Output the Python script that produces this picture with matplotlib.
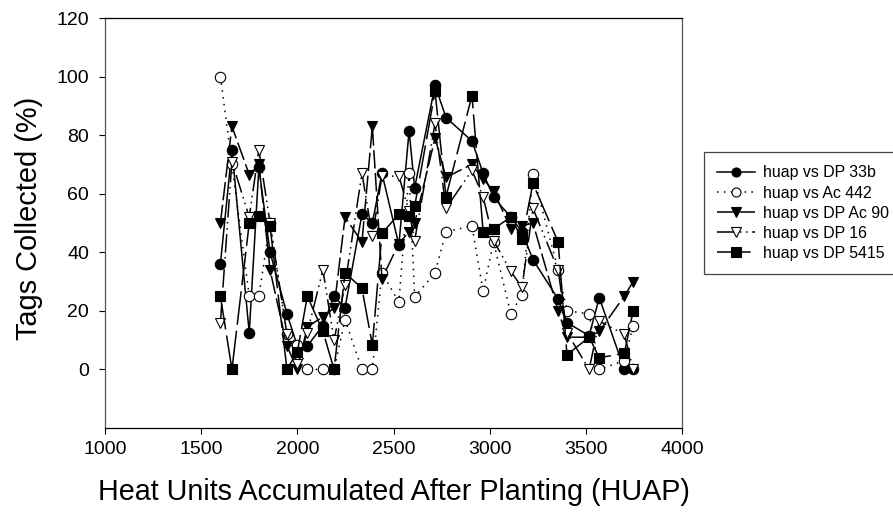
import numpy as np
import matplotlib
matplotlib.use("Agg")
import matplotlib.pyplot as plt

plt.rcParams['font.family'] = ['Liberation Sans', 'DejaVu Sans']

huap = [1600, 1660, 1750, 1800, 1858, 1946, 2000, 2052, 2133, 2191, 2248, 2336, 2390, 2440, 2528, 2581,
        2610, 2716, 2773, 2908, 2966, 3020, 3110, 3168, 3225, 3356, 3402, 3517, 3570, 3700, 3746]

dp_33b = [36, 75, 12.5, 69, 40, 19, 8, 8, 15, 25, 21, 53, 50, 67, 42.5, 81.5,
          62, 97, 86, 78, 67, 58.8, 52, 47, 37.5, 24, 16, 11.5, 24.5, 0, 0]
ac_442 = [100, 70, 25, 25, 50, 12, 8.5, 0, 0, 0, 17, 0, 0, 33, 23, 67,
          24.7, 33, 47, 49, 26.7, 43.5, 19, 25.5, 66.7, 34, 20, 19, 0, 3, 15]
dp_ac90 = [50, 83, 66.5, 70, 34, 8, 0, 14.5, 18, 21, 52, 43.5, 83, 31, 43, 47,
           50, 79, 65.6, 70, 65, 61, 48, 49, 50, 20, 11, 11, 13, 25, 30]
dp_16 = [16, 71, 52, 75, 50, 12, 2, 12.6, 34, 10, 29, 67, 45.5, 66, 66, 54,
         44, 84, 55, 68, 59, 44, 33.5, 28, 55, 34, 12.6, 0, 16.5, 12, 0]
dp_5415 = [25, 0, 50, 52.5, 49, 0, 6, 25, 13, 0, 33, 27.7, 8.3, 46.5, 53, 52.5,
           55.7, 95, 59, 93.5, 47, 48, 52, 44.5, 63.5, 43.5, 5, 11, 4, 5.5, 20]

series_labels = ['huap vs DP 33b', 'huap vs Ac 442', 'huap vs DP Ac 90', 'huap vs DP 16', 'huap vs DP 5415']

x_ticks = [1000, 1500, 2000, 2500, 3000, 3500, 4000]
y_ticks = [0, 20, 40, 60, 80, 100, 120]

W, H = 893, 512
fig = plt.figure(figsize=(W / 100, H / 100), dpi=100)
ax = fig.add_axes([105 / W, 1 - 428 / H, (682 - 105) / W, (428 - 18) / H])

styles = [
    dict(marker='o', mfc='black', ls='-'),
    dict(marker='o', mfc='white', ls=(0, (1, 3.5))),
    dict(marker='v', mfc='black', ls=(0, (12, 3))),
    dict(marker='v', mfc='white', ls=(0, (12, 3, 1, 3, 1, 3))),
    dict(marker='s', mfc='black', ls=(0, (22, 4))),
]

for vals, label, st in zip([dp_33b, ac_442, dp_ac90, dp_16, dp_5415], series_labels, styles):
    ax.plot(huap, vals, color='black', lw=1.1, marker=st['marker'], ms=7.5 if st['marker'] != 's' else 7,
            mfc=st['mfc'], mec='black', mew=0.8, ls=st['ls'], label=label, clip_on=False)

ax.set_xlim(1000, 4000)
ax.set_ylim(-20, 120)
ax.set_xticks(x_ticks)
ax.set_yticks(y_ticks)
ax.tick_params(labelsize=14, length=4.5, width=0.8, direction='out')
ax.tick_params(axis='x', pad=4.5)
ax.tick_params(axis='y', pad=7)
for s in ax.spines.values():
    s.set_linewidth(0.9)
ax.spines['left'].set_color('#555555')
ax.spines['right'].set_color('#555555')
ax.set_xlabel('Heat Units Accumulated After Planting (HUAP)', fontsize=20.7, labelpad=15)
ax.set_ylabel('Tags Collected (%)', fontsize=20.9, labelpad=10, y=0.511)

# legend runs off the right edge of the picture, so make the box wider than the room left
leg = ax.legend(loc='upper left', bbox_to_anchor=(704 / W, 1 - 273 / H, 210 / W, 121 / H),
                bbox_transform=fig.transFigure, mode='expand',
                fontsize=11.4, fancybox=False, edgecolor='#444444', framealpha=1, borderaxespad=0,
                handlelength=2.35, labelspacing=0.32, borderpad=0.85, handletextpad=0.5)
leg.get_frame().set_linewidth(0.9)
for line in leg.get_lines():
    line.set_markersize(6.5)

fig.savefig('out.png', dpi=100)
